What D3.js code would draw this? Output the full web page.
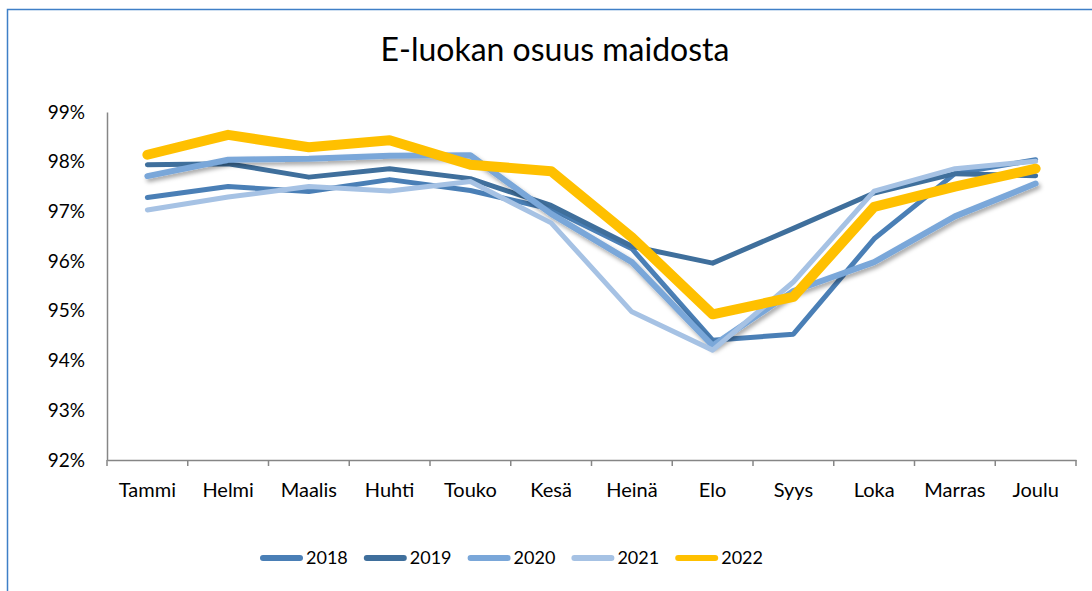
<!DOCTYPE html>
<html>
<head>
<meta charset="utf-8">
<script src="https://cdn.jsdelivr.net/npm/d3@7"></script>
<style>
  html, body { margin: 0; padding: 0; background: #fff; overflow: hidden; }
  svg { display: block; font-family: Lato, "Noto Sans", sans-serif; }
</style>
</head>
<body>
<svg id="chart" width="1092" height="591"></svg>
<script>
// Data
const months = ['Tammi', 'Helmi', 'Maalis', 'Huhti', 'Touko', 'Kesä', 'Heinä', 'Elo', 'Syys', 'Loka', 'Marras', 'Joulu'];
const years = ['2018', '2019', '2020', '2021', '2022'];
const v2018 = [97.28, 97.50, 97.40, 97.64, 97.42, 97.05, 96.25, 94.41, 94.53, 96.45, 97.76, 98.04];
const v2019 = [97.94, 97.96, 97.69, 97.86, 97.66, 97.12, 96.30, 95.96, 96.66, 97.37, 97.76, 97.72];
const v2020 = [97.71, 98.04, 98.06, 98.12, 98.13, 96.95, 95.98, 94.30, 95.40, 95.98, 96.90, 97.56];
const v2021 = [97.03, 97.29, 97.50, 97.41, 97.60, 96.77, 94.98, 94.21, 95.58, 97.41, 97.86, 98.01];
const v2022 = [98.14, 98.54, 98.29, 98.43, 97.94, 97.81, 96.48, 94.93, 95.28, 97.09, 97.50, 97.86];
const yTicks = [92, 93, 94, 95, 96, 97, 98, 99];
const title = 'E-luokan osuus maidosta';

const series = [v2018, v2019, v2020, v2021, v2022].map((vals, i) => ({name: years[i], values: vals}));

// Styles
const colors = {'2018': '#4a7fb6', '2019': '#3f6f9c', '2020': '#7aa7d9', '2021': '#a6c2e4', '2022': '#ffc000'};
const widths = {'2018': 5, '2019': 5, '2020': 6, '2021': 5, '2022': 10};
const axisColor = '#868686';

// Dimensions
const plot = {left: 107, right: 1076, top: 112, bottom: 460};

const svg = d3.select('#chart');

// frame
svg.append('rect')
    .attr('x', 7.5).attr('y', 9.5)
    .attr('width', 1200).attr('height', 700)
    .attr('fill', '#fff')
    .attr('stroke', '#3f7fc7')
    .attr('stroke-width', 1.5);

const defs = svg.append('defs');
defs.append('filter').attr('id', 'shadow')
    .attr('x', '-5%').attr('y', '-10%').attr('width', '110%').attr('height', '130%')
  .append('feDropShadow')
    .attr('dx', 2).attr('dy', 3).attr('stdDeviation', 2)
    .attr('flood-color', '#000').attr('flood-opacity', 0.35);

// Scales
const x = d3.scaleBand().domain(months).range([plot.left, plot.right]);
const y = d3.scaleLinear().domain([92, 99]).range([plot.bottom, plot.top]);
const cx = m => x(m) + x.bandwidth() / 2;

// Title
const t = svg.append('text')
    .attr('x', 555).attr('y', 61)
    .attr('text-anchor', 'middle')
    .attr('fill', '#000')
    .style('font-size', '30px')
    .text(title);
// fit title width
const tw = t.node().getComputedTextLength();
t.style('font-size', (30 * 349 / tw) + 'px');

// Y axis
const yAxis = svg.append('g')
    .attr('transform', `translate(${plot.left},0)`)
    .call(d3.axisLeft(y).tickValues(yTicks).tickSize(0).tickPadding(22).tickFormat(d => d + '%'));
yAxis.select('.domain').attr('stroke', axisColor).attr('stroke-width', 1.5);
yAxis.selectAll('text').style('font-size', '19px').attr('fill', '#000');

// X axis
const xAxis = svg.append('g')
    .attr('transform', `translate(0,${plot.bottom})`)
    .call(d3.axisBottom(x).tickSize(0).tickPadding(23));
xAxis.select('.domain').attr('stroke', axisColor).attr('stroke-width', 1.5);
xAxis.selectAll('text').style('font-size', '20px').attr('fill', '#000');
xAxis.selectAll('.bound')
    .data(d3.range(months.length + 1))
    .join('line')
    .attr('x1', i => plot.left + i * x.step())
    .attr('x2', i => plot.left + i * x.step())
    .attr('y1', 0).attr('y2', 6)
    .attr('stroke', axisColor).attr('stroke-width', 1.5);
svg.selectAll('g').attr('font-family', null).attr('font-size', null);

// Lines
const line = d3.line()
    .x((d, i) => cx(months[i]))
    .y(d => y(d));

svg.append('g').selectAll('path')
    .data(series)
    .join('path')
    .attr('d', d => line(d.values))
    .attr('fill', 'none')
    .attr('stroke', d => colors[d.name])
    .attr('stroke-width', d => widths[d.name])
    .attr('stroke-linecap', 'round')
    .attr('stroke-linejoin', 'round')
    .attr('filter', d => d.name === '2020' ? 'url(#shadow)' : null);

// Legend
const legend = svg.append('g').attr('transform', 'translate(260,558)');
const item = legend.selectAll('g')
    .data(years)
    .join('g')
    .attr('transform', (d, i) => `translate(${i * 103.8},0)`);
item.append('line')
    .attr('x1', 3).attr('x2', 40)
    .attr('y1', 0).attr('y2', 0)
    .attr('stroke', d => colors[d])
    .attr('stroke-width', 6)
    .attr('stroke-linecap', 'round');
item.append('text')
    .attr('x', 46).attr('y', 0)
    .attr('dy', '0.35em')
    .style('font-size', '18px')
    .attr('fill', '#000')
    .text(d => d);
</script>
</body>
</html>
